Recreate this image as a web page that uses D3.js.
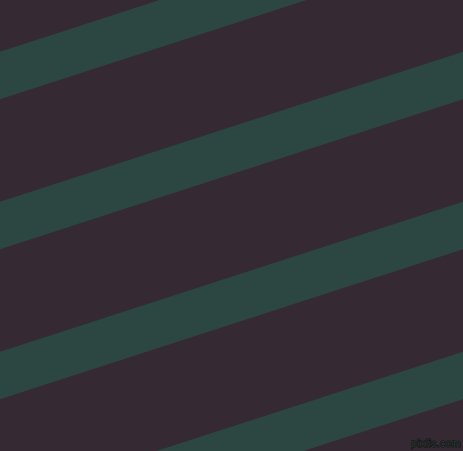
<!DOCTYPE html>
<html>
<head>
<meta charset="utf-8">
<script src="https://cdn.jsdelivr.net/npm/d3@7"></script>
<style>
html,body{margin:0;padding:0;background:#362a34;overflow:hidden;}
svg{display:block;}
</style>
</head>
<body>
<svg id="chart" width="463" height="451"></svg>
<script>
// Stripe data: left-edge (x=0) intercept of each band's upper edge, in picture units
const stripeStarts = [-98.3, 51.7, 201.7, 351.7, 501.7];
const stripeThickness = [47.6, 47.6, 47.6, 47.6, 47.6];
const stripeRise = [150, 150, 150, 150, 150]; // rise across full width
const watermark = ["pixlis.com"];

const W = 463, H = 451;
const svg = d3.select("#chart");
const x = d3.scaleLinear().domain([0, 463]).range([0, W]);
const y = d3.scaleLinear().domain([0, 451]).range([0, H]);

svg.append("rect").attr("width", W).attr("height", H).attr("fill", "#352a33");

const line = d3.line().x(d => x(d[0])).y(d => y(d[1]));
const bands = stripeStarts.map((s, i) => {
  const t = stripeThickness[i], r = stripeRise[i];
  return [[0, s], [463, s - r], [463, s - r + t], [0, s + t]];
});

svg.selectAll("path.band").data(bands).enter().append("path")
  .attr("class", "band")
  .attr("d", d => line(d) + "Z")
  .attr("fill", "#2c4741");

svg.selectAll("text.wm").data(watermark).enter().append("text")
  .attr("class", "wm")
  .attr("x", x(461)).attr("y", y(447))
  .attr("text-anchor", "end")
  .attr("font-family", "DejaVu Sans, sans-serif")
  .attr("font-size", 10)
  .attr("fill", "#223a30")
  .attr("stroke", "#0d0d0d")
  .attr("stroke-width", 0.9)
  .attr("paint-order", "stroke")
  .text(d => d);
</script>
</body>
</html>
